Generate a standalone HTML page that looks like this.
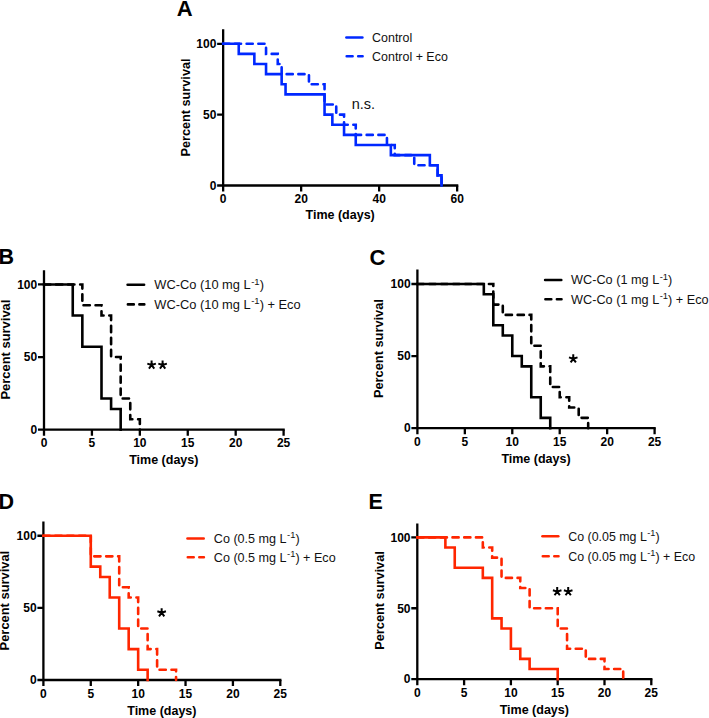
<!DOCTYPE html>
<html><head><meta charset="utf-8"><style>
html,body{margin:0;padding:0;background:#fff;}
body{width:709px;height:718px;overflow:hidden;}
svg{display:block;font-family:'Liberation Sans', sans-serif;}
.tk{font-weight:bold;font-size:12px;fill:#000;}
.ax{font-weight:bold;font-size:12.5px;fill:#000;}
.ay{font-weight:bold;fill:#000;}
.lg{fill:#111;}
.sp{font-size:8.6px;}
.pl{font-weight:bold;fill:#000;}
.ns{font-size:14.5px;fill:#111;}
.st{font-weight:bold;font-size:24px;letter-spacing:1.7px;fill:#000;}
</style></head><body>
<svg width="709" height="718" viewBox="0 0 709 718">
<rect width="709" height="718" fill="#fff"/>
<path d="M223.15 29.3V191.5M217.15 185.5H458.3" stroke="#000" stroke-width="2.3" fill="none"/>
<path d="M301.15 185.5V191.5M379.15 185.5V191.5M457.15 185.5V191.5M217.15 114.65H223.15M217.15 43.8H223.15" stroke="#000" stroke-width="2.3" fill="none"/>
<text x="223.15" y="202.7" text-anchor="middle" class="tk">0</text>
<text x="301.15" y="202.7" text-anchor="middle" class="tk">20</text>
<text x="379.15" y="202.7" text-anchor="middle" class="tk">40</text>
<text x="457.15" y="202.7" text-anchor="middle" class="tk">60</text>
<text x="216.35" y="189.8" text-anchor="end" class="tk">0</text>
<text x="216.35" y="118.95" text-anchor="end" class="tk">50</text>
<text x="216.35" y="48.1" text-anchor="end" class="tk">100</text>
<text x="340.15" y="219.2" text-anchor="middle" class="ax">Time (days)</text>
<text transform="translate(189.9 107.5) rotate(-90)" x="0" y="0" text-anchor="middle" class="ay" font-size="12.7">Percent survival</text>
<path d="M223.15 43.8H238.75V53.92H254.35V64.04H266.05V74.16H281.65V84.29H285.55V94.41H324.55V114.65H332.35V124.77H344.05V134.89H355.75V145.01H390.85V155.14H429.85V165.26H437.65V175.38H441.55V185.5" stroke="rgb(0,40,255)" stroke-width="2.6" fill="none" stroke-linejoin="miter" stroke-linecap="square"/>
<path d="M223.15 43.8H266.05V53.92H277.75V64.04H281.65V74.16H308.95V84.29H324.55V104.53H336.25V114.65H344.05V124.77H355.75V134.89H386.95V145.01H394.75V155.14H414.25V165.26H437.65V175.38H441.55V185.5" stroke="rgb(0,40,255)" stroke-width="2.6" fill="none" stroke-dasharray="6.16 5.57" stroke-linecap="round"/>
<path d="M346.4 37.5H362.4" stroke="rgb(0,40,255)" stroke-width="2.6" stroke-linecap="round"/>
<path d="M346.7 56.3H352.6M358.2 56.3H362.6" stroke="rgb(0,40,255)" stroke-width="2.6" stroke-linecap="round"/>
<text x="372.1" y="41.7" class="lg" font-size="12.45">Control</text>
<text x="372.1" y="60.5" class="lg" font-size="12.45">Control + Eco</text>
<text x="176.8" y="16.3" class="pl" font-size="22">A</text>
<path d="M44 270.2V435.7M38 429.7H284.75" stroke="#000" stroke-width="2.3" fill="none"/>
<path d="M91.92 429.7V435.7M139.84 429.7V435.7M187.76 429.7V435.7M235.68 429.7V435.7M283.6 429.7V435.7M38 357.07H44M38 284.45H44" stroke="#000" stroke-width="2.3" fill="none"/>
<text x="44" y="447.1" text-anchor="middle" class="tk">0</text>
<text x="91.92" y="447.1" text-anchor="middle" class="tk">5</text>
<text x="139.84" y="447.1" text-anchor="middle" class="tk">10</text>
<text x="187.76" y="447.1" text-anchor="middle" class="tk">15</text>
<text x="235.68" y="447.1" text-anchor="middle" class="tk">20</text>
<text x="283.6" y="447.1" text-anchor="middle" class="tk">25</text>
<text x="37.2" y="434" text-anchor="end" class="tk">0</text>
<text x="37.2" y="361.38" text-anchor="end" class="tk">50</text>
<text x="37.2" y="288.75" text-anchor="end" class="tk">100</text>
<text x="163.8" y="464.1" text-anchor="middle" class="ax">Time (days)</text>
<text transform="translate(9.5 349.6) rotate(-90)" x="0" y="0" text-anchor="middle" class="ay" font-size="12.95">Percent survival</text>
<path d="M44 284.45H72.75V315.57H82.34V346.7H101.5V398.57H111.09V408.95H120.67V429.7" stroke="#000" stroke-width="2.6" fill="none" stroke-linejoin="miter" stroke-linecap="square"/>
<path d="M44 284.45H82.34V305.2H101.5V315.57H111.09V357.07H120.67V398.57H130.26V419.32H139.84V429.7" stroke="#000" stroke-width="2.6" fill="none" stroke-dasharray="6.33 5.72" stroke-linecap="round"/>
<path d="M127.6 284.7H144.1" stroke="#000" stroke-width="2.6" stroke-linecap="round"/>
<path d="M127.9 304.4H133.8M139.4 304.4H144.3" stroke="#000" stroke-width="2.6" stroke-linecap="round"/>
<text x="154.3" y="289.1" class="lg" font-size="12.85">WC-Co (10 mg L<tspan font-size="9.53" dx="0.5" dy="-4.6">-1</tspan><tspan dy="4.6">)</tspan></text>
<text x="154.3" y="308.8" class="lg" font-size="12.85">WC-Co (10 mg L<tspan font-size="9.53" dx="0.5" dy="-4.6">-1</tspan><tspan dy="4.6">) + Eco</tspan></text>
<text x="-1.5" y="264.4" class="pl" font-size="21.5">B</text>
<path d="M417.4 269.5V434.15M411.4 428.15H655.75" stroke="#000" stroke-width="2.3" fill="none"/>
<path d="M464.84 428.15V434.15M512.28 428.15V434.15M559.72 428.15V434.15M607.16 428.15V434.15M654.6 428.15V434.15M411.4 356.07H417.4M411.4 284H417.4" stroke="#000" stroke-width="2.3" fill="none"/>
<text x="417.4" y="445.85" text-anchor="middle" class="tk">0</text>
<text x="464.84" y="445.85" text-anchor="middle" class="tk">5</text>
<text x="512.28" y="445.85" text-anchor="middle" class="tk">10</text>
<text x="559.72" y="445.85" text-anchor="middle" class="tk">15</text>
<text x="607.16" y="445.85" text-anchor="middle" class="tk">20</text>
<text x="654.6" y="445.85" text-anchor="middle" class="tk">25</text>
<text x="410.6" y="432.45" text-anchor="end" class="tk">0</text>
<text x="410.6" y="360.38" text-anchor="end" class="tk">50</text>
<text x="410.6" y="288.3" text-anchor="end" class="tk">100</text>
<text x="536" y="462.8" text-anchor="middle" class="ax">Time (days)</text>
<text transform="translate(383.2 348.6) rotate(-90)" x="0" y="0" text-anchor="middle" class="ay" font-size="12.8">Percent survival</text>
<path d="M417.4 284H483.82V294.3H493.3V325.19H502.79V335.48H512.28V356.07H521.77V366.37H531.26V397.26H540.74V417.85H550.23V428.15" stroke="#000" stroke-width="2.6" fill="none" stroke-linejoin="miter" stroke-linecap="square"/>
<path d="M417.4 284H493.3V304.59H502.79V314.89H531.26V345.78H540.74V366.37H550.23V386.96H559.72V397.26H569.21V407.56H578.7V417.85H588.18V428.15" stroke="#000" stroke-width="2.6" fill="none" stroke-dasharray="6.26 5.66" stroke-linecap="round"/>
<path d="M545.1 280H561.3" stroke="#000" stroke-width="2.6" stroke-linecap="round"/>
<path d="M545.4 299.3H551.3M556.9 299.3H561.5" stroke="#000" stroke-width="2.6" stroke-linecap="round"/>
<text x="571.1" y="284.4" class="lg" font-size="12.7">WC-Co (1 mg L<tspan font-size="9.42" dx="0.5" dy="-4.6">-1</tspan><tspan dy="4.6">)</tspan></text>
<text x="571.1" y="303.7" class="lg" font-size="12.7">WC-Co (1 mg L<tspan font-size="9.42" dx="0.5" dy="-4.6">-1</tspan><tspan dy="4.6">) + Eco</tspan></text>
<text x="369.6" y="265.2" class="pl" font-size="22">C</text>
<path d="M43.4 521.4V686M37.4 680H281.45" stroke="#000" stroke-width="2.3" fill="none"/>
<path d="M90.78 680V686M138.16 680V686M185.54 680V686M232.92 680V686M280.3 680V686M37.4 607.88H43.4M37.4 535.75H43.4" stroke="#000" stroke-width="2.3" fill="none"/>
<text x="43.4" y="697.7" text-anchor="middle" class="tk">0</text>
<text x="90.78" y="697.7" text-anchor="middle" class="tk">5</text>
<text x="138.16" y="697.7" text-anchor="middle" class="tk">10</text>
<text x="185.54" y="697.7" text-anchor="middle" class="tk">15</text>
<text x="232.92" y="697.7" text-anchor="middle" class="tk">20</text>
<text x="280.3" y="697.7" text-anchor="middle" class="tk">25</text>
<text x="36.6" y="684.3" text-anchor="end" class="tk">0</text>
<text x="36.6" y="612.17" text-anchor="end" class="tk">50</text>
<text x="36.6" y="540.05" text-anchor="end" class="tk">100</text>
<text x="161.85" y="714.5" text-anchor="middle" class="ax">Time (days)</text>
<text transform="translate(9.4 600.6) rotate(-90)" x="0" y="0" text-anchor="middle" class="ay" font-size="12.9">Percent survival</text>
<path d="M43.4 535.75H90.78V566.66H100.26V576.96H109.73V597.57H119.21V628.48H128.68V649.09H138.16V669.7H147.64V680" stroke="rgb(255,38,0)" stroke-width="2.6" fill="none" stroke-linejoin="miter" stroke-linecap="square"/>
<path d="M43.4 535.75H90.78V556.36H119.21V587.27H128.68V597.57H138.16V628.48H147.64V649.09H157.11V669.7H176.06V680" stroke="rgb(255,38,0)" stroke-width="2.6" fill="none" stroke-dasharray="6.26 5.65" stroke-linecap="round"/>
<path d="M187.5 538.5H203.7" stroke="rgb(255,38,0)" stroke-width="2.6" stroke-linecap="round"/>
<path d="M187.8 557.3H193.7M199.3 557.3H203.9" stroke="rgb(255,38,0)" stroke-width="2.6" stroke-linecap="round"/>
<text x="213.8" y="542.9" class="lg" font-size="12.6">Co (0.5 mg L<tspan font-size="9.35" dx="0.5" dy="-4.6">-1</tspan><tspan dy="4.6">)</tspan></text>
<text x="213.8" y="561.7" class="lg" font-size="12.6">Co (0.5 mg L<tspan font-size="9.35" dx="0.5" dy="-4.6">-1</tspan><tspan dy="4.6">) + Eco</tspan></text>
<text x="-1.5" y="509.3" class="pl" font-size="21.5">D</text>
<path d="M417.3 523.4V685.15M411.3 679.15H652.45" stroke="#000" stroke-width="2.3" fill="none"/>
<path d="M464.1 679.15V685.15M510.9 679.15V685.15M557.7 679.15V685.15M604.5 679.15V685.15M651.3 679.15V685.15M411.3 608.27H417.3M411.3 537.4H417.3" stroke="#000" stroke-width="2.3" fill="none"/>
<text x="417.3" y="696.85" text-anchor="middle" class="tk">0</text>
<text x="464.1" y="696.85" text-anchor="middle" class="tk">5</text>
<text x="510.9" y="696.85" text-anchor="middle" class="tk">10</text>
<text x="557.7" y="696.85" text-anchor="middle" class="tk">15</text>
<text x="604.5" y="696.85" text-anchor="middle" class="tk">20</text>
<text x="651.3" y="696.85" text-anchor="middle" class="tk">25</text>
<text x="410.5" y="683.45" text-anchor="end" class="tk">0</text>
<text x="410.5" y="612.57" text-anchor="end" class="tk">50</text>
<text x="410.5" y="541.7" text-anchor="end" class="tk">100</text>
<text x="534.3" y="713.7" text-anchor="middle" class="ax">Time (days)</text>
<text transform="translate(383.8 600.5) rotate(-90)" x="0" y="0" text-anchor="middle" class="ay" font-size="12.75">Percent survival</text>
<path d="M417.3 537.4H445.38V547.52H454.74V567.77H482.82V577.9H492.18V618.4H501.54V628.52H510.9V648.77H520.26V658.9H529.62V669.02H557.7V679.15" stroke="rgb(255,38,0)" stroke-width="2.6" fill="none" stroke-linejoin="miter" stroke-linecap="square"/>
<path d="M417.3 537.4H482.82V547.52H492.18V557.65H501.54V577.9H520.26V588.02H529.62V608.27H557.7V628.52H567.06V648.77H585.78V658.9H604.5V669.02H623.22V679.15" stroke="rgb(255,38,0)" stroke-width="2.6" fill="none" stroke-dasharray="6.16 5.57" stroke-linecap="round"/>
<path d="M542.5 536.2H558.3" stroke="rgb(255,38,0)" stroke-width="2.6" stroke-linecap="round"/>
<path d="M542.8 556.3H548.7M554.3 556.3H558.5" stroke="rgb(255,38,0)" stroke-width="2.6" stroke-linecap="round"/>
<text x="568.3" y="540.6" class="lg" font-size="12.4">Co (0.05 mg L<tspan font-size="9.2" dx="0.5" dy="-4.6">-1</tspan><tspan dy="4.6">)</tspan></text>
<text x="568.3" y="560.7" class="lg" font-size="12.4">Co (0.05 mg L<tspan font-size="9.2" dx="0.5" dy="-4.6">-1</tspan><tspan dy="4.6">) + Eco</tspan></text>
<text x="368.6" y="509.3" class="pl" font-size="21.5">E</text>
<text x="351.7" y="108.7" class="ns">n.s.</text>
<path d="M151.6 365L151.6 360.5M151.6 365L155.88 363.61M151.6 365L147.32 363.61M151.6 365L154.25 368.64M151.6 365L148.95 368.64" stroke="#000" stroke-width="2.0" fill="none"/>
<path d="M162.6 365L162.6 360.5M162.6 365L166.88 363.61M162.6 365L158.32 363.61M162.6 365L165.25 368.64M162.6 365L159.95 368.64" stroke="#000" stroke-width="2.0" fill="none"/>
<path d="M573.25 358.8L573.25 354.3M573.25 358.8L577.53 357.41M573.25 358.8L568.97 357.41M573.25 358.8L575.9 362.44M573.25 358.8L570.6 362.44" stroke="#000" stroke-width="2.0" fill="none"/>
<path d="M161.65 612.7L161.65 608.2M161.65 612.7L165.93 611.31M161.65 612.7L157.37 611.31M161.65 612.7L164.3 616.34M161.65 612.7L159 616.34" stroke="#000" stroke-width="2.0" fill="none"/>
<path d="M557.2 591.6L557.2 587.1M557.2 591.6L561.48 590.21M557.2 591.6L552.92 590.21M557.2 591.6L559.85 595.24M557.2 591.6L554.55 595.24" stroke="#000" stroke-width="2.0" fill="none"/>
<path d="M568.2 591.6L568.2 587.1M568.2 591.6L572.48 590.21M568.2 591.6L563.92 590.21M568.2 591.6L570.85 595.24M568.2 591.6L565.55 595.24" stroke="#000" stroke-width="2.0" fill="none"/>
</svg>
</body></html>
